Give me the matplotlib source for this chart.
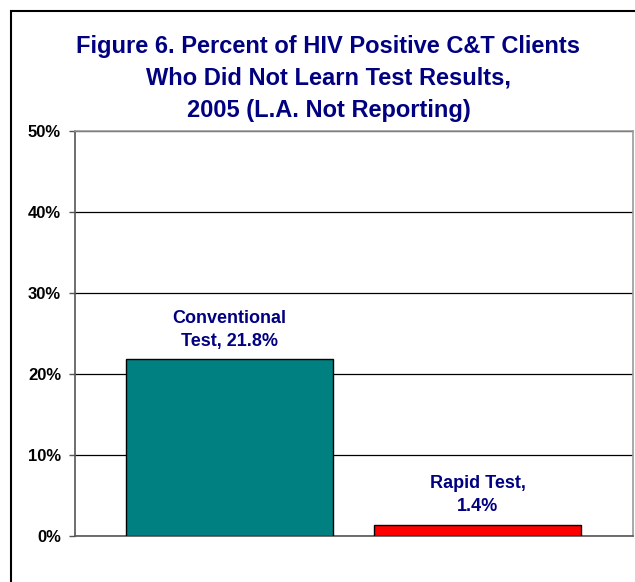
import matplotlib.pyplot as plt
from matplotlib.patches import Rectangle

# data
values = [21.8, 1.4]
bar_labels = ["Conventional\nTest, 21.8%", "Rapid Test,\n1.4%"]
bar_colors = ["#008080", "#FF0000"]
yticks = [0, 10, 20, 30, 40, 50]
title = "Figure 6. Percent of HIV Positive C&T Clients\nWho Did Not Learn Test Results,\n2005 (L.A. Not Reporting)"

navy = "#000080"
plt.rcParams['font.family'] = ['Liberation Sans', 'DejaVu Sans']

fig = plt.figure(figsize=(6.35, 5.82), dpi=100)
ax = fig.add_axes([75 / 635, 46 / 582, 558 / 635, 405 / 582])

xpos = list(range(len(values)))
ax.bar(xpos, values, width=0.835, color=bar_colors, edgecolor="black", linewidth=1.0, zorder=3)

for x, v, lab in zip(xpos, values, bar_labels):
    ax.annotate(lab, (x, v), xytext=(0, 7), textcoords="offset points",
                ha="center", va="bottom", fontsize=13, fontweight="bold",
                color=navy, linespacing=1.42)

ax.set_xlim(-0.623, 1.627)
ax.set_ylim(0, 50)
ax.set_yticks(yticks)
ax.set_yticklabels([f"{t}%" for t in yticks], fontsize=12, fontweight="bold")
ax.set_xticks([])
ax.yaxis.grid(True, color="black", linewidth=0.9, zorder=0)
ax.tick_params(axis="y", length=4, width=1, color="#555555", pad=6)

ax.spines["left"].set_color("#555555")
ax.spines["bottom"].set_color("#555555")
ax.spines["top"].set_color("#999999")
ax.spines["right"].set_color("#999999")
for s in ax.spines.values():
    s.set_linewidth(1.2)

fig.text(328.5 / 635, 1 - 78 / 582, title, ha="center", va="center",
         fontsize=17, fontweight="bold", color=navy, linespacing=1.5)

# outer frame of the chart
fig.patches.append(Rectangle((11 / 635, -0.1), 1.2, (582 - 11) / 582 + 0.1,
                             transform=fig.transFigure, fill=False,
                             edgecolor="black", linewidth=1.5))

fig.savefig("out.png", dpi=100)
